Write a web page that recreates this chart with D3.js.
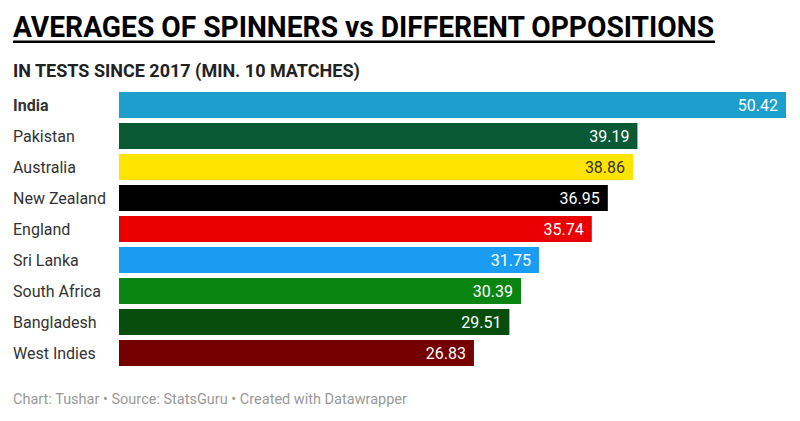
<!DOCTYPE html>
<html>
<head>
<meta charset="utf-8">
<script src="https://cdn.jsdelivr.net/npm/d3@7"></script>
<style>
  body { margin: 0; background: #fff; }
  svg text { font-family: Roboto, "Noto Sans", sans-serif; }
</style>
</head>
<body>
<div id="chart"></div>
<script>
// data
const teams = ["India", "Pakistan", "Australia", "New Zealand", "England", "Sri Lanka", "South Africa", "Bangladesh", "West Indies"];
const averages = [50.42, 39.19, 38.86, 36.95, 35.74, 31.75, 30.39, 29.51, 26.83];
const barColors = ["#1c9fcd", "#0b5a36", "#ffe400", "#000000", "#eb0000", "#1a9cf2", "#0b8512", "#074d0c", "#750000"];

const width = 800, height = 421;
const margin = {left: 119, right: 14, top: 92};
const rowStep = 31, barH = 26;

const svg = d3.select("#chart").append("svg")
  .attr("width", width)
  .attr("height", height);

// title + underline
svg.append("text")
  .attr("x", 13).attr("y", 37)
  .attr("font-size", 30).attr("font-weight", 700)
  .attr("fill", "#000")
  .attr("textLength", 701).attr("lengthAdjust", "spacingAndGlyphs")
  .text("AVERAGES OF SPINNERS vs DIFFERENT OPPOSITIONS");
svg.append("rect")
  .attr("x", 13).attr("y", 40.5).attr("width", 702).attr("height", 2.5)
  .attr("fill", "#000");

svg.append("text")
  .attr("x", 13).attr("y", 77)
  .attr("font-size", 18).attr("font-weight", 700)
  .attr("fill", "#222")
  .text("IN TESTS SINCE 2017 (MIN. 10 MATCHES)");

const data = teams.map((t, i) => ({team: t, value: averages[i], color: barColors[i]}));

const x = d3.scaleLinear()
  .domain([0, d3.max(averages)])
  .range([margin.left, width - margin.right]);

// step of 31px, bars 26px tall
const y = d3.scaleBand()
  .domain(teams)
  .range([margin.top, margin.top + rowStep * teams.length - (rowStep - barH)])
  .paddingInner((rowStep - barH) / rowStep)
  .paddingOuter(0);

const rows = svg.append("g").selectAll("g")
  .data(data)
  .enter().append("g");

rows.append("rect")
  .attr("x", x(0))
  .attr("y", d => y(d.team))
  .attr("width", d => x(d.value) - x(0))
  .attr("height", y.bandwidth())
  .attr("fill", d => d.color);

rows.append("text")
  .attr("x", 13)
  .attr("y", d => y(d.team) + y.bandwidth() / 2)
  .attr("dy", "0.35em")
  .attr("font-size", 16)
  .attr("font-weight", (d, i) => i === 0 ? 700 : 400)
  .attr("fill", "#333")
  .text(d => d.team);

rows.append("text")
  .attr("x", d => x(d.value) - 8)
  .attr("y", d => y(d.team) + y.bandwidth() / 2)
  .attr("dy", "0.35em")
  .attr("text-anchor", "end")
  .attr("font-size", 16)
  .attr("fill", d => d.color === "#ffe400" ? "#333" : "#fff")
  .text(d => d.value.toFixed(2));

svg.append("text")
  .attr("x", 13).attr("y", 404)
  .attr("font-size", 14.5)
  .attr("fill", "#999")
  .text("Chart: Tushar \u2022 Source: StatsGuru \u2022 Created with Datawrapper");
</script>
</body>
</html>
